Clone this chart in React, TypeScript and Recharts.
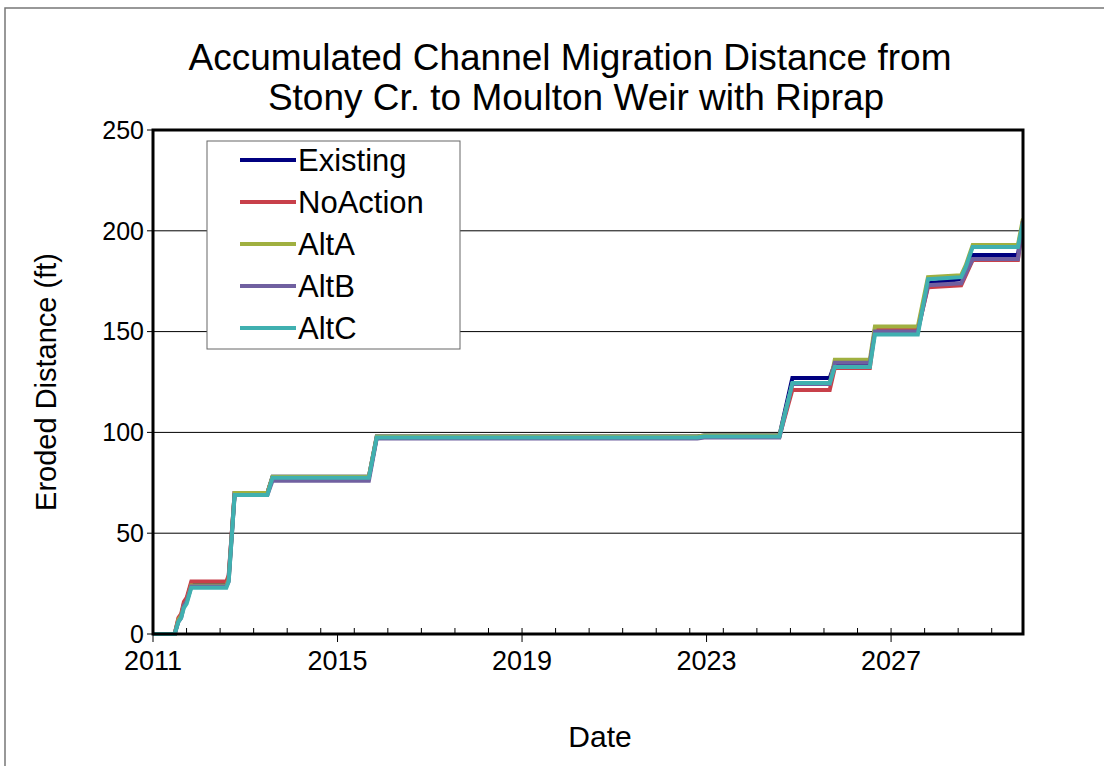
import { LineChart, Line, XAxis, YAxis, CartesianGrid } from 'recharts';

const FONT = '"Liberation Sans", Arial, sans-serif';

// decimal years of the step breakpoints
const times = [
  2011.0, 2011.47, 2011.55, 2011.61, 2011.67, 2011.73, 2011.83, 2012.59, 2012.64, 2012.77,
  2013.48, 2013.59, 2015.68, 2015.85, 2022.8, 2022.95, 2024.58, 2024.86, 2025.67, 2025.78,
  2026.54, 2026.65, 2027.58, 2027.8, 2028.52, 2028.62, 2028.77, 2029.75, 2029.86,
];

const existing = [0, 0, 7, 9, 15, 17, 25, 25, 28, 70, 70, 78, 78, 98, 98, 98.5, 98.5, 127, 127, 134, 134, 151, 151, 174, 176, 180, 188, 188, 205];
const noAction = [0, 0, 8, 10, 16, 18, 26, 26, 29, 70, 70, 77.5, 77.5, 97.5, 97.5, 98, 98, 121, 121, 132, 132, 151, 151, 172, 173, 178, 185.5, 185.5, 205];
const altA = [0, 0, 7, 9, 14, 16, 24, 24, 27, 70, 70, 78, 78, 98, 98, 98.5, 98.5, 124, 124, 136, 136, 152.5, 152.5, 177, 178, 183, 193, 193, 206];
const altB = [0, 0, 6, 8, 14, 16, 23.5, 23.5, 26, 69, 69, 76, 76, 97, 97, 97.5, 97.5, 124, 124, 134.5, 134.5, 150, 150, 173, 174, 179, 186, 186, 205];
const altC = [0, 0, 6, 8, 13, 15, 23, 23, 26, 69, 69, 77.5, 77.5, 97.5, 97.5, 98, 98, 124.5, 124.5, 132.5, 132.5, 148.5, 148.5, 176, 177, 182, 192, 192, 204];

const seriesNames = ['Existing', 'NoAction', 'AltA', 'AltB', 'AltC'];
const seriesColors = ['#000080', '#C8404A', '#A0B040', '#7060A0', '#40B0B0'];
const seriesValues = [existing, noAction, altA, altB, altC];

const yTicks = [0, 50, 100, 150, 200, 250];
const xMajorTicks = [2011, 2015, 2019, 2023, 2027];
const xEnd = 2029.86;
const minorStep = 4 / 5.5;

const minorTicks: number[] = [];
for (let v = 2011 + minorStep; v < xEnd; v += minorStep) minorTicks.push(v);

const data = times.map((t, i) => {
  const row: Record<string, number> = { t };
  seriesNames.forEach((name, k) => {
    row[name] = seriesValues[k][i];
  });
  return row;
});

const W = 1104;
const H = 766;
const PLOT = { left: 153, top: 130, right: 1023, bottom: 634 };

function XTick(props: any) {
  const { x, payload } = props;
  const y = PLOT.bottom;
  const major = xMajorTicks.includes(payload.value);
  if (!major) {
    return <line x1={x} y1={y} x2={x} y2={y - 6} stroke="#000" strokeWidth={1} />;
  }
  return (
    <g>
      <line x1={x} y1={y} x2={x} y2={y + 8} stroke="#000" strokeWidth={1} />
      <text x={x} y={y + 36} textAnchor="middle" fontSize={27} fontFamily={FONT} fill="#000">
        {payload.value}
      </text>
    </g>
  );
}

export default function App() {
  const allXTicks = [...xMajorTicks, ...minorTicks].sort((a, b) => a - b);
  return (
    <div style={{ position: 'absolute', left: 0, top: 0, width: W, height: H, background: '#fff' }}>
      <LineChart
        width={W}
        height={H}
        data={data}
        margin={{ top: PLOT.top, right: W - PLOT.right, bottom: H - PLOT.bottom - 40, left: PLOT.left - 60 }}
      >
        <CartesianGrid vertical={false} stroke="#000" strokeWidth={1} horizontalValues={[50, 100, 150, 200]} />
        <XAxis
          dataKey="t"
          type="number"
          domain={[2011, xEnd]}
          ticks={allXTicks}
          interval={0}
          tickLine={false}
          axisLine={false}
          tickSize={0}
          tickMargin={0}
          height={40}
          tick={<XTick />}
          allowDataOverflow
        />
        <YAxis
          type="number"
          domain={[0, 250]}
          ticks={yTicks}
          width={60}
          axisLine={false}
          tickSize={6}
          tickMargin={3}
          tickLine={{ stroke: '#000' }}
          tick={{ fontSize: 25, fill: '#000', fontFamily: FONT }}
        />
        {seriesNames.map((name, k) => (
          <Line
            key={name}
            dataKey={name}
            type="linear"
            stroke={seriesColors[k]}
            strokeWidth={4}
            dot={false}
            isAnimationActive={false}
          />
        ))}
      </LineChart>

      <svg
        width={W}
        height={H}
        style={{ position: 'absolute', left: 0, top: 0, pointerEvents: 'none' }}
        fontFamily={FONT}
      >
        <rect x={5} y={8} width={W} height={H} fill="none" stroke="#777" strokeWidth={1.5} />
        <rect
          x={PLOT.left}
          y={PLOT.top}
          width={PLOT.right - PLOT.left}
          height={PLOT.bottom - PLOT.top}
          fill="none"
          stroke="#000"
          strokeWidth={3}
        />
        <text x={570} y={70} textAnchor="middle" fontSize={37} fill="#000">
          Accumulated Channel Migration Distance from
        </text>
        <text x={576} y={110} textAnchor="middle" fontSize={37} fill="#000">
          Stony Cr. to Moulton Weir with Riprap
        </text>
        <text
          x={0}
          y={0}
          transform="translate(56,382) rotate(-90)"
          textAnchor="middle"
          fontSize={29}
          fill="#000"
        >
          Eroded Distance (ft)
        </text>
        <text x={600} y={747} textAnchor="middle" fontSize={30} fill="#000">
          Date
        </text>

        <rect x={207} y={141} width={253} height={208} fill="#fff" stroke="#666" strokeWidth={1} />
        {seriesNames.map((name, k) => (
          <g key={name}>
            <line x1={240} y1={160 + k * 42} x2={296} y2={160 + k * 42} stroke={seriesColors[k]} strokeWidth={4} />
            <text x={298} y={171 + k * 42} fontSize={31} fill="#000">
              {name}
            </text>
          </g>
        ))}
      </svg>
    </div>
  );
}
